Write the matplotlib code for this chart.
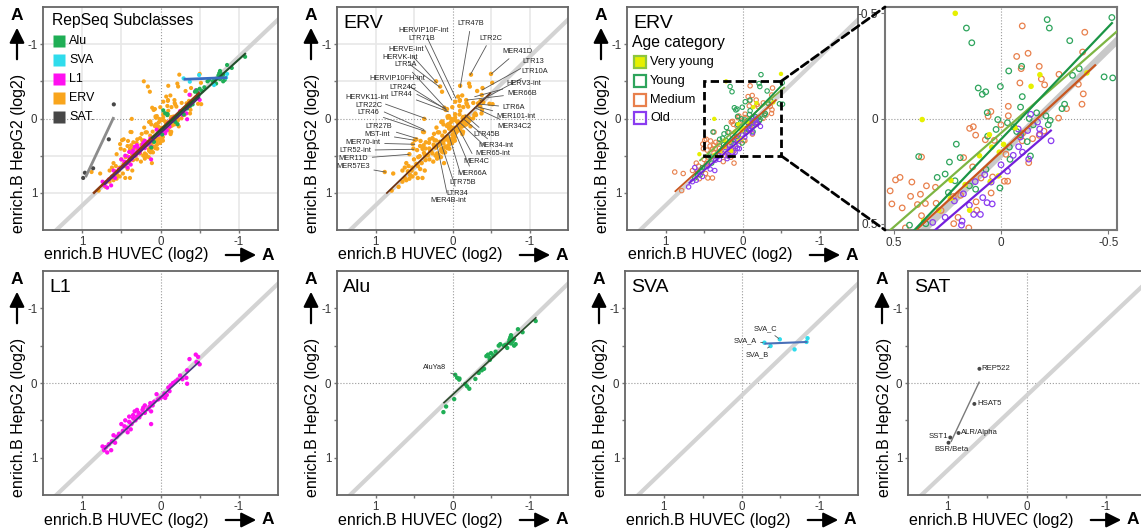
import matplotlib
matplotlib.use('Agg')
import matplotlib.pyplot as plt
from matplotlib.patches import Rectangle, ConnectionPatch, FancyArrowPatch
import numpy as np

plt.rcParams['font.family'] = ['Liberation Sans', 'DejaVu Sans']
plt.rcParams['axes.unicode_minus'] = False

# ------------------------------------------------------------------ data
DIAG_OFFSET = 0.17   # grey reference diagonal: HepG2 = HUVEC + offset

tick_vals = [1, 0, -1]
tick_labels = ['1', '0', '-1']
zoom_tick_vals = [0.5, 0, -0.5]
zoom_xtick_labels = ['0.5', '0', '-0.5']
zoom_ytick_labels = ['0.5', '0', '-0.5']

# ERV subfamilies by age category: (HUVEC, HepG2) log2 enrichment
erv_very_young = [(0.213, -0.50), (-0.181, -0.208), (-0.14, -0.153), (-0.40, -0.217), (0.367, 0.005),
                  (-0.065, 0.044), (0.054, 0.077), (-0.012, 0.123), (0.008, 0.16), (0.043, 0.136),
                  (0.10, 0.177), (0.233, 0.294), (0.167, 0.314), (0.236, 0.38), (0.05, 0.30),
                  (0.012, 0.273), (0.29, 0.436), (0.146, 0.436), (0.36, 0.487), (0.56, 0.48),
                  (-0.50, -0.60)]
erv_young = [(0.161, -0.43), (0.136, -0.36), (-0.215, -0.47), (-0.225, -0.43), (-0.516, -0.48),
             (-0.32, -0.37), (-0.096, -0.248), (-0.036, -0.226), (-0.333, -0.205), (-0.364, -0.237),
             (-0.48, -0.198), (-0.52, -0.193), (0.106, -0.145), (0.087, -0.115), (0.071, -0.127),
             (0.003, -0.152), (-0.099, -0.104), (-0.091, -0.054), (0.064, -0.028), (-0.166, -0.027),
             (-0.209, -0.013), (-0.296, -0.068), (-0.284, -0.047), (0.015, 0.005), (-0.229, 0.009),
             (0.023, 0.052), (0.208, 0.122), (0.062, 0.084), (-0.073, 0.062), (-0.091, 0.077),
             (-0.122, 0.11), (-0.131, 0.0), (-0.039, 0.136), (-0.042, 0.194), (-0.137, 0.178),
             (0.383, 0.181), (0.24, 0.207), (0.19, 0.186), (0.07, 0.242), (0.297, 0.28),
             (0.26, 0.264), (0.214, 0.296), (0.147, 0.32), (0.118, 0.336), (0.245, 0.352),
             (0.005, 0.33), (0.35, 0.50), (0.426, 0.507), (-0.24, -0.59), (0.62, 0.80),
             (0.52, 0.66), (0.40, 0.60), (0.55, 0.76), (0.53, 0.70), (-0.03, 0.02),
             (-0.06, 0.04), (-0.15, 0.03), (-0.22, 0.03)]
erv_medium = [(-0.099, -0.44), (-0.39, -0.41), (-0.073, -0.295), (-0.126, -0.31), (-0.38, -0.316),
              (-0.094, -0.237), (-0.178, -0.248), (-0.188, -0.188), (-0.203, -0.16), (-0.088, -0.169),
              (-0.27, -0.21), (-0.36, -0.163), (-0.383, -0.117), (-0.377, -0.068), (-0.034, -0.058),
              (-0.034, -0.013), (0.047, -0.033), (0.06, -0.011), (-0.305, -0.047), (-0.268, -0.002),
              (0.146, 0.047), (0.129, 0.039), (0.118, 0.079), (0.073, 0.101), (0.031, 0.104),
              (-0.099, 0.106), (-0.147, 0.096), (-0.023, 0.17), (-0.129, 0.21), (-0.178, 0.08),
              (0.37, 0.183), (0.174, 0.186), (0.132, 0.23), (0.491, 0.292), (0.415, 0.302),
              (0.347, 0.32), (0.305, 0.327), (0.188, 0.365), (0.222, 0.371), (0.516, 0.344),
              (0.508, 0.406), (0.421, 0.37), (0.375, 0.36), (0.46, 0.425), (0.389, 0.409),
              (0.352, 0.404), (0.302, 0.403), (0.116, 0.396), (0.046, 0.354), (0.093, 0.283),
              (0.039, 0.278), (-0.016, 0.298), (-0.031, 0.298), (0.279, 0.437), (0.113, 0.436),
              (0.37, 0.462), (0.445, 0.52), (0.88, 0.72), (0.77, 0.74), (0.79, 0.97),
              (0.56, 0.81), (0.48, 0.74), (0.45, 0.80), (0.60, 0.60), (0.57, 0.64),
              (0.47, 0.61), (0.39, 0.80), (0.11, 0.60), (0.47, 0.28), (0.25, 0.58),
              (0.15, 0.52), (0.50, 0.55), (0.65, 0.70), (0.0, 0.03), (-0.10, 0.07),
              (-0.20, 0.06), (0.20, 0.47), (0.22, 0.50)]
erv_old = [(-0.138, -0.02), (-0.082, 0.134), (-0.057, 0.175), (-0.129, 0.193), (-0.233, 0.106),
           (-0.18, 0.074), (0.175, 0.358), (0.217, 0.392), (0.085, 0.376), (0.065, 0.40),
           (0.041, 0.406), (0.046, 0.302), (0.076, 0.267), (0.127, 0.456), (0.096, 0.456),
           (0.181, 0.488), (0.184, 0.507), (0.318, 0.494), (0.147, 0.412), (0.70, 0.92),
           (0.65, 0.85), (0.60, 0.83), (0.52, 0.78), (0.45, 0.64), (0.35, 0.56),
           (0.30, 0.55), (0.36, 0.70), (0.42, 0.68), (0.20, 0.54), (0.62, 0.66),
           (0.58, 0.71), (-0.08, 0.05), (-0.18, 0.05), (0.0, 0.22), (-0.03, 0.25),
           (0.26, 0.47), (-0.10, 0.16), (0.12, 0.30), (-0.17, 0.017), (-0.124, 0.057),
           (-0.09, 0.088)]

l1_points = [(-0.37, -0.32), (-0.45, -0.38), (-0.48, -0.35), (-0.50, -0.25), (-0.46, -0.28),
             (-0.34, -0.17), (-0.33, -0.07), (-0.34, 0.01), (-0.22, -0.045), (-0.16, 0.0),
             (-0.19, -0.02), (-0.13, 0.03), (-0.115, 0.11), (-0.08, 0.16), (-0.05, 0.14),
             (-0.03, 0.18), (0.0, 0.20), (-0.06, 0.20), (0.03, 0.22), (0.08, 0.25),
             (0.10, 0.30), (0.13, 0.27), (0.16, 0.35), (0.12, 0.38), (0.14, 0.32),
             (0.20, 0.40), (0.23, 0.36), (0.25, 0.42), (0.28, 0.40), (0.30, 0.45),
             (0.33, 0.38), (0.35, 0.47), (0.32, 0.50), (0.27, 0.46), (0.12, 0.55),
             (0.37, 0.55), (0.40, 0.52), (0.43, 0.60), (0.46, 0.58), (0.48, 0.64),
             (0.42, 0.66), (0.38, 0.62), (0.50, 0.55), (0.45, 0.50), (0.56, 0.72),
             (0.60, 0.70), (0.62, 0.78), (0.66, 0.82), (0.70, 0.86), (0.72, 0.90),
             (0.68, 0.93), (0.63, 0.90), (0.58, 0.80), (0.74, 0.85), (0.53, 0.68),
             (0.20, 0.30), (0.05, 0.15), (-0.25, -0.10), (-0.28, -0.05), (-0.10, 0.06),
             (0.22, 0.33), (0.30, 0.36), (0.35, 0.43), (0.40, 0.45)]

alu_points = [(0.118, 0.39), (0.083, 0.315), (-0.022, 0.216), (-0.035, -0.11), (-0.06, -0.07),
              (-0.087, -0.045), (-0.09, -0.06), (-0.166, 0.014), (-0.19, 0.045), (-0.218, 0.077),
              (-0.297, -0.054), (-0.34, -0.135), (-0.38, -0.17), (-0.41, -0.19), (-0.44, -0.36),
              (-0.46, -0.38), (-0.48, -0.34), (-0.50, -0.40), (-0.53, -0.37), (-0.56, -0.42),
              (-0.485, -0.31), (-0.60, -0.50), (-0.62, -0.52), (-0.67, -0.50), (-0.69, -0.51),
              (-0.71, -0.47), (-0.73, -0.54), (-0.75, -0.61), (-0.76, -0.53), (-0.76, -0.64),
              (-0.78, -0.56), (-0.80, -0.59), (-0.80, -0.50), (-0.82, -0.52), (-0.85, -0.72),
              (-0.91, -0.68), (-1.08, -0.83), (-0.74, -0.58), (-0.77, -0.60)]

sva_points = [(-0.295, -0.54), (-0.493, -0.585), (-0.374, -0.495), (-0.683, -0.45),
              (-0.85, -0.60), (-0.837, -0.55)]
sva_names = ['SVA_A', 'SVA_C', 'SVA_B']
sva_label_pos = [(-0.044, -0.563), (-0.308, -0.73), (-0.198, -0.374)]

sat_points = [(0.596, -0.19), (0.66, 0.28), (0.86, 0.67), (0.965, 0.73), (0.987, 0.80)]
sat_names = ['REP522', 'HSAT5', 'ALR/Alpha', 'SST1', 'BSR/Beta']
sat_label_pos = [(0.565, -0.19), (0.617, 0.28), (0.826, 0.665), (0.987, 0.72), (1.16, 0.885)]
sat_label_ha = ['left', 'left', 'left', 'right', 'left']

alu_label = ('AluYa8', (0.227, -0.212), (-0.035, -0.11))

# ERV labelled subfamilies: name, text centre, point
erv_labels = [
    ('HERVIP10F-int', (0.371, -1.18), (-0.044, -0.27)),
    ('LTR71B', (0.402, -1.081), (0.009, -0.248)),
    ('HERVE-int', (0.598, -0.932), (0.205, -0.482)),
    ('HERVK-int', (0.677, -0.824), (0.162, -0.419)),
    ('LTR5A', (0.607, -0.721), (0.087, -0.135)),
    ('HERVIP10FH-int', (0.712, -0.532), (0.074, -0.113)),
    ('LTR24C', (0.642, -0.419), (0.096, -0.135)),
    ('LTR44', (0.664, -0.324), (0.052, -0.09)),
    ('HERVK11-int', (1.114, -0.284), (0.35, 0.0)),
    ('LTR22C', (1.087, -0.18), (0.371, 0.149)),
    ('LTR46', (1.092, -0.081), (0.358, 0.171)),
    ('LTR27B', (0.956, 0.113), (0.459, 0.27)),
    ('MST-int', (0.974, 0.212), (0.489, 0.293)),
    ('MER70-int', (1.162, 0.329), (0.489, 0.347)),
    ('LTR52-int', (1.266, 0.428), (0.502, 0.414)),
    ('MER11D', (1.288, 0.541), (0.563, 0.482)),
    ('MER57E3', (1.293, 0.644), (0.869, 0.721)),
    ('LTR47B', (-0.24, -1.275), (-0.10, -0.419)),
    ('LTR2C', (-0.493, -1.081), (-0.231, -0.586)),
    ('MER41D', (-0.843, -0.901), (-0.502, -0.599)),
    ('LTR13', (-1.048, -0.766), (-0.384, -0.383)),
    ('LTR10A', (-1.061, -0.631), (-0.36, -0.24)),
    ('HERV3-int', (-0.93, -0.473), (-0.288, -0.293)),
    ('MER66B', (-0.908, -0.338), (-0.188, -0.248)),
    ('LTR6A', (-0.799, -0.149), (-0.341, -0.194)),
    ('MER101-int', (-0.83, -0.023), (-0.319, -0.158)),
    ('MER34C2', (-0.808, 0.104), (-0.284, -0.149)),
    ('LTR45B', (-0.45, 0.216), (-0.166, -0.045)),
    ('MER34-int', (-0.568, 0.369), (-0.135, 0.0)),
    ('MER65-int', (-0.524, 0.473), (-0.10, 0.059)),
    ('MER4C', (-0.306, 0.572), (-0.057, 0.09)),
    ('MER66A', (-0.262, 0.743), (-0.013, 0.135)),
    ('LTR75B', (-0.135, 0.856), (0.052, 0.203)),
    ('LTR34', (-0.066, 1.014), (0.162, 0.293)),
    ('MER4B-int', (0.052, 1.104), (0.205, 0.338)),
]

# linear fits: slope, intercept, x from, x to
fit_erv = (1.0, 0.15, 0.86, -0.50)
fit_l1 = (0.967, 0.194, 0.72, -0.50)
fit_alu = (0.952, 0.158, 0.118, -1.09)
fit_sva = (0.041, -0.515, -0.295, -0.85)
fit_sat = (2.24, -1.354, 0.957, 0.596)
fit_very_young = (0.895, 0.069, 0.56, -0.55)
fit_young = (1.07, 0.099, 0.62, -0.52)
fit_medium = (0.94, 0.159, 0.88, -0.442)
fit_old = (0.877, 0.261, 0.70, -0.236)

subclass_names = ['Alu', 'SVA', 'L1', 'ERV', 'SAT.']
age_names = ['Very young', 'Young', 'Medium', 'Old']

# ------------------------------------------------------------------ style
C_ALU, C_SVA, C_L1, C_ERV, C_SAT = '#1fae55', '#2fdcec', '#ff10f0', '#f9a51c', '#474747'
C_VY, C_VY_EDGE, C_Y, C_M, C_O = '#e6f000', '#8cc63f', '#2ea45c', '#e8804c', '#8a3cf0'
L_VY, L_Y, L_M, L_O = '#7db543', '#1b9545', '#c9561f', '#7420dc'
DIAG_C = '#d3d3d3'

W, H = 1141, 530
fig = plt.figure(figsize=(W / 100, H / 100), dpi=100)

R1 = (43, 7, 278, 230)
R2 = (337, 7, 568, 230)
R3 = (627, 7, 858, 230)
R4 = (885, 7, 1117, 230)
R5 = (43, 271, 278, 495)
R6 = (337, 271, 568, 495)
R7 = (625, 271, 858, 495)
R8 = (908, 271, 1145, 495)


def add_ax(rect):
    l, t, r, b = rect
    return fig.add_axes([l / W, 1 - b / H, (r - l) / W, (b - t) / H])


def fx(X):
    return X / W


def fy(Y):
    return 1 - Y / H


def style_main(ax, grid=False):
    ax.set_xlim(1.5, -1.5)
    ax.set_ylim(1.5, -1.5)
    ax.set_xticks(tick_vals)
    ax.set_xticklabels(tick_labels)
    ax.set_yticks(tick_vals)
    ax.set_yticklabels(tick_labels)
    ax.set_xticks([0.5, -0.5], minor=True)
    ax.set_yticks([0.5, -0.5], minor=True)
    ax.tick_params(which='both', direction='out', color='#777', labelsize=8.3,
                   labelcolor='#333', width=1, pad=1.5)
    ax.tick_params(which='major', length=2.5)
    ax.tick_params(which='minor', length=2)
    for s in ax.spines.values():
        s.set_color('#666')
        s.set_linewidth(1.3)
    if grid:
        for v in [-1, -0.5, 0.5, 1]:
            ax.axhline(v, color='#e8e8e8', lw=1.2, zorder=0)
            ax.axvline(v, color='#e8e8e8', lw=1.2, zorder=0)
    ax.axhline(0, color='#9a9a9a', lw=0.8, ls=':', zorder=0.5)
    ax.axvline(0, color='#9a9a9a', lw=0.8, ls=':', zorder=0.5)
    ax.axline((0, DIAG_OFFSET), slope=1, color=DIAG_C, lw=3, zorder=1)


def decor(rect):
    l, t, r, b = rect
    yb = b + 25
    fig.text(fx(l + 1), fy(yb), 'enrich.B HUVEC (log2)', fontsize=11.5, ha='left', va='center')
    fig.add_artist(FancyArrowPatch((fx(l + 180), fy(yb)), (fx(l + 216), fy(yb)),
                                   transform=fig.transFigure,
                                   arrowstyle='-|>,head_length=0.6,head_width=0.3',
                                   mutation_scale=15, lw=1.6, color='black'))
    fig.text(fx(l + 225), fy(yb), 'A', fontsize=12.5, fontweight='bold', ha='center', va='center')
    fig.text(fx(l - 24), fy(t + 146), 'enrich.B HepG2 (log2)', fontsize=11.5, rotation=90,
             ha='center', va='center')
    fig.add_artist(FancyArrowPatch((fx(l - 26), fy(t + 55)), (fx(l - 26), fy(t + 18)),
                                   transform=fig.transFigure,
                                   arrowstyle='-|>,head_length=0.6,head_width=0.3',
                                   mutation_scale=15, lw=1.6, color='black'))
    fig.text(fx(l - 26), fy(t + 9), 'A', fontsize=12.5, fontweight='bold', ha='center', va='center')


def title(ax, rect, txt):
    l, t, r, b = rect
    ax.text((6) / (r - l), (b - t - 16) / (b - t), txt, transform=ax.transAxes,
            fontsize=14, ha='left', va='center')


def frac(rect, X, Y):
    l, t, r, b = rect
    return (X - l) / (r - l), (b - Y) / (b - t)


def xy(points):
    a = np.array(points, dtype=float)
    return a[:, 0], a[:, 1]


def fit_line(ax, fit, **kw):
    s, c, x0, x1 = fit
    xs = np.array([x0, x1])
    ax.plot(xs, s * xs + c, solid_capstyle='butt', **kw)


erv_all = erv_very_young + erv_young + erv_medium + erv_old

# ------------------------------------------------------------------ panel 1: all subclasses
ax1 = add_ax(R1)
style_main(ax1, grid=True)
ax1.scatter(*xy(erv_all), s=9, color=C_ERV, edgecolors='none', zorder=2)
ax1.scatter(*xy(l1_points), s=9, color=C_L1, edgecolors='none', zorder=3)
ax1.scatter(*xy(alu_points), s=9, color=C_ALU, edgecolors='none', zorder=3)
ax1.scatter(*xy(sva_points), s=9, color=C_SVA, edgecolors='none', zorder=3)
ax1.scatter(*xy(sat_points), s=9, color=C_SAT, edgecolors='none', zorder=3)
fit_line(ax1, fit_erv, color='#8a3a12', lw=1.8, zorder=4)
fit_line(ax1, fit_l1, color='#4b2b6e', lw=1.5, zorder=4)
fit_line(ax1, fit_alu, color='#234f2c', lw=1.5, zorder=4)
fit_line(ax1, fit_sva, color='#3a6cc2', lw=2, zorder=4)
fit_line(ax1, fit_sat, color='#8c8c8c', lw=2, zorder=4)
tx, ty = frac(R1, 52, 20)
ax1.text(tx, ty, 'RepSeq Subclasses', transform=ax1.transAxes, fontsize=11.3, ha='left', va='center')
for i, (nm, c) in enumerate(zip(subclass_names, [C_ALU, C_SVA, C_L1, C_ERV, C_SAT])):
    Y = 40.7 + i * 19.1
    mx, my = frac(R1, 59, Y)
    ax1.plot([mx], [my], marker='s', ms=8, color=c, mec='none', ls='', transform=ax1.transAxes,
             clip_on=False, zorder=6)
    lx, ly = frac(R1, 69, Y)
    ax1.text(lx, ly, nm, transform=ax1.transAxes, fontsize=9, ha='left', va='center')
decor(R1)

# ------------------------------------------------------------------ panel 2: ERV labelled
ax2 = add_ax(R2)
style_main(ax2, grid=True)
ax2.scatter(*xy(erv_all), s=10, color=C_ERV, edgecolors='none', zorder=2)
fit_line(ax2, fit_erv, color='#6b3010', lw=1.2, zorder=4)
for nm, (tx_, ty_), (px, py) in erv_labels:
    ax2.annotate(nm, xy=(px, py), xytext=(tx_, ty_), fontsize=5.3, ha='center', va='center',
                 color='#222', zorder=6,
                 arrowprops=dict(arrowstyle='-', color='#555', lw=0.6, shrinkA=1, shrinkB=0))
title(ax2, R2, 'ERV')
decor(R2)

# ------------------------------------------------------------------ panel 3: ERV age
ax3 = add_ax(R3)
style_main(ax3)


def age_scatter(ax, s, lw):
    ax.scatter(*xy(erv_medium), s=s, facecolors='none', edgecolors=C_M, linewidths=lw, zorder=2)
    ax.scatter(*xy(erv_young), s=s, facecolors='none', edgecolors=C_Y, linewidths=lw, zorder=2)
    ax.scatter(*xy(erv_old), s=s, facecolors='none', edgecolors=C_O, linewidths=lw, zorder=2)
    ax.scatter(*xy(erv_very_young), s=s, color=C_VY, edgecolors='none', zorder=3)


def age_lines(ax, lw):
    fit_line(ax, fit_medium, color=L_M, lw=lw, zorder=4)
    fit_line(ax, fit_old, color=L_O, lw=lw, zorder=4)
    fit_line(ax, fit_very_young, color=L_VY, lw=lw, zorder=4)
    fit_line(ax, fit_young, color=L_Y, lw=lw, zorder=4)


age_scatter(ax3, 10, 0.8)
age_lines(ax3, 1.3)
ax3.add_patch(Rectangle((-0.5, -0.5), 1.0, 1.0, fill=False, ec='black', lw=2,
                        ls=(0, (3, 1.5)), zorder=5))
title(ax3, R3, 'ERV')
tx, ty = frac(R3, 632, 43)
ax3.text(tx, ty, 'Age category', transform=ax3.transAxes, fontsize=11.3, ha='left', va='center')
age_styles = [(C_VY, C_VY_EDGE), ('none', C_Y), ('none', C_M), ('none', C_O)]
for i, (nm, (fc, ec)) in enumerate(zip(age_names, age_styles)):
    Y = 62.3 + i * 18.7
    mx, my = frac(R3, 640, Y)
    ax3.plot([mx], [my], marker='s', ms=8.5, mfc=fc, mec=ec, mew=1.6, ls='',
             transform=ax3.transAxes, clip_on=False, zorder=6)
    lx, ly = frac(R3, 650, Y)
    ax3.text(lx, ly, nm, transform=ax3.transAxes, fontsize=9.2, ha='left', va='center')
decor(R3)

# ------------------------------------------------------------------ panel 4: zoom
ax4 = add_ax(R4)
ax4.set_xlim(0.54, -0.54)
ax4.set_ylim(0.53, -0.53)
ax4.set_xticks(zoom_tick_vals)
ax4.set_xticklabels(zoom_xtick_labels)
ax4.set_yticks(zoom_tick_vals)
ax4.set_yticklabels(zoom_ytick_labels)
ax4.tick_params(direction='out', color='#777', labelsize=8.5, labelcolor='#333', length=3, pad=2)
for s in ax4.spines.values():
    s.set_color('#777')
    s.set_linewidth(1.5)
ax4.axhline(0, color='#9a9a9a', lw=0.8, ls=':', zorder=0.5)
ax4.axvline(0, color='#9a9a9a', lw=0.8, ls=':', zorder=0.5)
ax4.axline((0, DIAG_OFFSET), slope=1, color='#c8c8c8', lw=5, zorder=1)
age_scatter(ax4, 16, 0.9)
age_lines(ax4, 1.6)

for yA, yB in [(-0.5, 1.0), (0.5, 0.0)]:
    cp = ConnectionPatch(xyA=(-0.5, yA), coordsA=ax3.transData, xyB=(0.0, yB),
                         coordsB=ax4.transAxes, color='black', lw=2, ls=(0, (3, 1.5)), zorder=10)
    fig.add_artist(cp)

# ------------------------------------------------------------------ panel 5: L1
ax5 = add_ax(R5)
style_main(ax5)
ax5.scatter(*xy(l1_points), s=10, color=C_L1, edgecolors='none', zorder=2)
fit_line(ax5, fit_l1, color='#4a3a80', lw=1.2, zorder=4)
title(ax5, R5, 'L1')
decor(R5)

# ------------------------------------------------------------------ panel 6: Alu
ax6 = add_ax(R6)
style_main(ax6)
ax6.scatter(*xy(alu_points), s=10, color=C_ALU, edgecolors='none', zorder=2)
fit_line(ax6, fit_alu, color='#2a4a2a', lw=1.2, zorder=4)
nm, tpos, ppos = alu_label
ax6.annotate(nm, xy=ppos, xytext=tpos, fontsize=5.3, ha='center', va='center', color='#222',
             arrowprops=dict(arrowstyle='-', color='#555', lw=0.6, shrinkA=1, shrinkB=0))
title(ax6, R6, 'Alu')
decor(R6)

# ------------------------------------------------------------------ panel 7: SVA
ax7 = add_ax(R7)
style_main(ax7)
ax7.scatter(*xy(sva_points), s=10, color=C_SVA, edgecolors='none', zorder=2)
fit_line(ax7, fit_sva, color='#4a70b8', lw=1.5, zorder=4)
for nm, tpos, ppos in zip(sva_names, sva_label_pos, sva_points[:3]):
    ax7.annotate(nm, xy=ppos, xytext=tpos, fontsize=5.3, ha='center', va='center', color='#222',
                 arrowprops=dict(arrowstyle='-', color='#555', lw=0.6, shrinkA=1, shrinkB=1))
title(ax7, R7, 'SVA')
decor(R7)

# ------------------------------------------------------------------ panel 8: SAT
ax8 = add_ax(R8)
style_main(ax8)
ax8.scatter(*xy(sat_points), s=8, color=C_SAT, edgecolors='none', zorder=2)
fit_line(ax8, fit_sat, color='#7a7a7a', lw=1.0, zorder=4)
for nm, tpos, ha in zip(sat_names, sat_label_pos, sat_label_ha):
    ax8.text(tpos[0], tpos[1], nm, fontsize=5.6, ha=ha, va='center', color='#222')
title(ax8, R8, 'SAT')
decor(R8)

fig.savefig('out.png', dpi=100)
